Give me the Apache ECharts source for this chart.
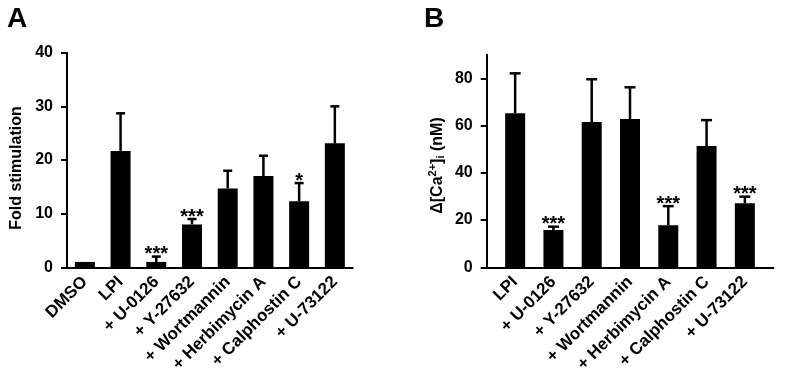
<!DOCTYPE html>
<html><head><meta charset="utf-8">
<script src="https://cdn.jsdelivr.net/npm/echarts@6/dist/echarts.min.js"></script>
<style>html,body{margin:0;padding:0;background:#fff}#c{width:788px;height:378px}</style>
</head><body><div id="c"></div>
<script>
// Panel A data
const categoriesA = ['DMSO', 'LPI', '+ U-0126', '+ Y-27632', '+ Wortmannin', '+ Herbimycin A', '+ Calphostin C', '+ U-73122'];
const valuesA = [1.0, 21.7, 1.0, 8.0, 14.7, 17.0, 12.3, 23.1];
const errorsA = [0, 7.0, 1.0, 1.0, 3.3, 3.8, 3.4, 6.9];
const sigA = ['', '', '***', '***', '', '', '*', ''];
const ticksA = [0, 10, 20, 30, 40];

// Panel B data
const categoriesB = ['LPI', '+ U-0126', '+ Y-27632', '+ Wortmannin', '+ Herbimycin A', '+ Calphostin C', '+ U-73122'];
const valuesB = [65.2, 15.8, 61.5, 62.8, 17.8, 51.3, 27.1];
const errorsB = [16.9, 1.4, 18.1, 13.4, 8.1, 11.0, 2.8];
const sigB = ['', '***', '', '', '***', '', '***'];
const ticksB = [0, 20, 40, 60, 80];

const FONT = "'Liberation Sans', Arial, Helvetica, sans-serif";

function errSeries(xi, yi, vals, errs, sigs, cap) {
  return {
    type: 'custom', xAxisIndex: xi, yAxisIndex: yi, z: 5,
    encode: { x: 0, y: 1 },
    data: vals.map((v, i) => [i, v, errs[i]]),
    renderItem: function (params, api) {
      const i = api.value(0), v = api.value(1), e = api.value(2);
      const sig = sigs[params.dataIndex];
      const base = api.coord([i, v]);
      const top = api.coord([i, v + e]);
      const children = [];
      if (e > 0) {
        children.push({ type: 'line', shape: { x1: base[0], y1: base[1], x2: top[0], y2: top[1] }, style: { stroke: '#000', lineWidth: 2.5 } });
        children.push({ type: 'line', shape: { x1: top[0] - cap, y1: top[1], x2: top[0] + cap, y2: top[1] }, style: { stroke: '#000', lineWidth: 2.5 } });
      }
      if (sig) {
        children.push({ type: 'text', style: { text: sig, x: top[0], y: top[1] + 8, align: 'center', verticalAlign: 'bottom', font: 'bold 20px ' + FONT, fill: '#000' } });
      }
      return { type: 'group', children: children };
    }
  };
}

const axisLineStyle = { color: '#000', width: 2 };
const tickLabel = { color: '#000', fontSize: 16, fontWeight: 'bold', fontFamily: FONT, margin: 14 };
const catLabel = { color: '#000', fontSize: 17, fontWeight: 'bold', fontFamily: FONT, rotate: 45, interval: 0, margin: 12 };

const chart = echarts.init(document.getElementById('c'), null, { renderer: 'canvas' });
chart.setOption({
  animation: false,
  backgroundColor: '#fff',
  title: [
    { text: 'A', left: 7, top: 5, padding: 0, textStyle: { fontSize: 28, fontWeight: 'bold', fontFamily: FONT, color: '#000' } },
    { text: 'B', left: 424, top: 5, padding: 0, textStyle: { fontSize: 28, fontWeight: 'bold', fontFamily: FONT, color: '#000' } }
  ],
  grid: [
    { left: 67, right: 435.3, top: 52.7, bottom: 110.7 },
    { left: 486.7, right: 14.7, top: 54.7, bottom: 110.7 },
    { left: 496, right: 24, top: 54.7, bottom: 110.7 }
  ],
  xAxis: [
    { gridIndex: 0, type: 'category', data: categoriesA, axisLine: { lineStyle: axisLineStyle }, axisTick: { show: false }, axisLabel: catLabel, splitLine: { show: false } },
    { gridIndex: 1, type: 'value', min: 0, max: 1, axisLine: { show: true, onZero: false, lineStyle: axisLineStyle }, axisTick: { show: false }, axisLabel: { show: false }, splitLine: { show: false } },
    { gridIndex: 2, type: 'category', data: categoriesB, axisLine: { show: false }, axisTick: { show: false }, axisLabel: catLabel, splitLine: { show: false } }
  ],
  yAxis: [
    { gridIndex: 0, type: 'value', min: 0, max: 40, interval: 10,
      axisLine: { show: true, lineStyle: axisLineStyle },
      axisTick: { show: true, length: 6, lineStyle: axisLineStyle, customValues: ticksA },
      axisLabel: Object.assign({}, tickLabel, { customValues: ticksA }),
      splitLine: { show: false },
      name: 'Fold stimulation', nameLocation: 'middle', nameGap: 42,
      nameTextStyle: { color: '#000', fontSize: 16, fontWeight: 'bold', fontFamily: FONT, padding: [0, 16, 0, 0] } },
    { gridIndex: 1, type: 'value', min: 0, max: 90,
      axisLine: { show: true, onZero: false, lineStyle: axisLineStyle },
      axisTick: { show: true, length: 6, lineStyle: axisLineStyle, customValues: ticksB },
      axisLabel: Object.assign({}, tickLabel, { customValues: ticksB }),
      splitLine: { show: false },
      name: '{a|Δ[Ca}{sup|2+}{a|]}{sub|i}{a| (nM)}', nameLocation: 'middle', nameGap: 40,
      nameTextStyle: { color: '#000', fontSize: 16, fontWeight: 'bold', fontFamily: FONT, padding: [0, 9, 0, 0],
        rich: {
          a: { fontSize: 16, fontWeight: 'bold', fontFamily: FONT, color: '#000' },
          sup: { fontSize: 11, fontWeight: 'bold', fontFamily: FONT, color: '#000', verticalAlign: 'top', padding: [0, 0, 8, 0] },
          sub: { fontSize: 11, fontWeight: 'bold', fontFamily: FONT, color: '#000', verticalAlign: 'bottom', padding: [6, 0, 0, 0] }
        } } },
    { gridIndex: 2, type: 'value', min: 0, max: 90, show: false, splitLine: { show: false } }
  ],
  series: [
    { type: 'bar', xAxisIndex: 0, yAxisIndex: 0, data: valuesA, barWidth: 20, itemStyle: { color: '#000' } },
    errSeries(0, 0, valuesA, errorsA, sigA, 4.5),
    { type: 'bar', xAxisIndex: 2, yAxisIndex: 2, data: valuesB, barWidth: 20, itemStyle: { color: '#000' } },
    errSeries(2, 2, valuesB, errorsB, sigB, 5.5)
  ]
});
</script>
</body></html>
